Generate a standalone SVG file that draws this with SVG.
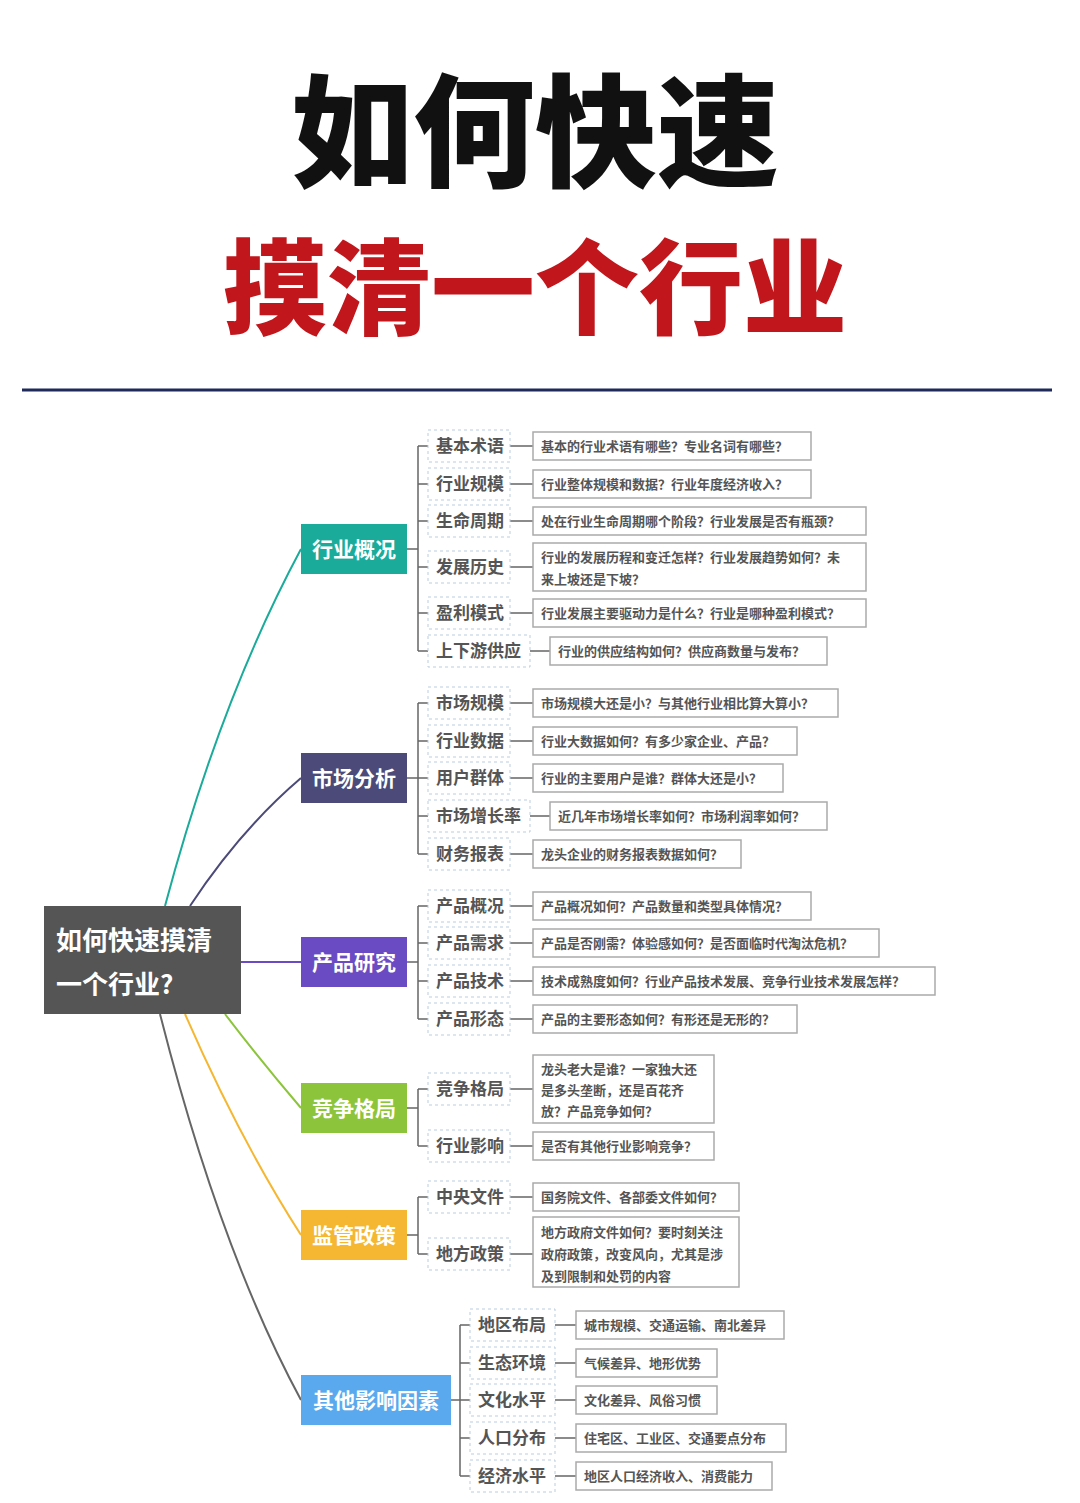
<svg xmlns="http://www.w3.org/2000/svg" width="1080" height="1503" viewBox="0 0 1080 1503">
<style>
text{font-family:"Noto Sans CJK SC","Noto Sans",sans-serif}
.t1{font-size:122px;font-weight:900;fill:#111}
.t2{font-size:104px;font-weight:900;fill:#c0161c}
.cat rect{stroke:none}
.cat text{fill:#fff;font-size:21px;font-weight:700}
.lb rect{fill:#fff;stroke:#bcd;stroke-dasharray:3 3;stroke-width:1}
.lb text{fill:#555;font-size:17px;font-weight:700}
.dt rect{fill:#fff;stroke:#aaa;stroke-width:1.5}
.dt text{fill:#555;font-size:13px;font-weight:700}
.ln{fill:none;stroke:#666;stroke-width:1.5}
</style>
<rect width="1080" height="1503" fill="#fff"/>
<text class="t1" x="535" y="177" text-anchor="middle">如何快速</text>
<text class="t2" x="535" y="327" text-anchor="middle">摸清一个行业</text>
<line x1="22" y1="390" x2="1052" y2="390" stroke="#1f2a5a" stroke-width="3"/>
<g id="connectors" fill="none" stroke-width="2">
<path d="M165 906 Q220 700 301 549" stroke="#1aab9b"/>
<path d="M190 906 Q240 830 301 778" stroke="#4b4a78"/>
<path d="M241 962 L301 962" stroke="#6a4bc4"/>
<path d="M225 1014 Q260 1060 301 1108" stroke="#8cc43c"/>
<path d="M185 1014 Q240 1140 301 1235" stroke="#f5b731"/>
<path d="M160 1014 Q220 1250 301 1400" stroke="#666"/>
<g class="ln">
<path d="M407 549 H418 M418 446 V651 M418 446 H428 M418 484 H428 M418 521 H428 M418 567 H428 M418 613 H428 M418 651 H428"/>
<path d="M510 446 H533 M510 484 H533 M510 521 H533 M510 567 H533 M510 613 H533 M530 651 H550"/>
<path d="M407 778 H418 M418 703 V854 M418 703 H428 M418 741 H428 M418 778 H428 M418 816 H428 M418 854 H428"/>
<path d="M510 703 H533 M510 741 H533 M510 778 H533 M530 816 H550 M510 854 H533"/>
<path d="M407 962 H418 M418 906 V1019 M418 906 H428 M418 943 H428 M418 981 H428 M418 1019 H428"/>
<path d="M510 906 H533 M510 943 H533 M510 981 H533 M510 1019 H533"/>
<path d="M407 1108 H418 M418 1089 V1146 M418 1089 H428 M418 1146 H428 M510 1089 H533 M510 1146 H533"/>
<path d="M407 1235 H418 M418 1197 V1254 M418 1197 H428 M418 1254 H428 M510 1197 H533 M510 1254 H533"/>
<path d="M451 1400 H460 M460 1325 V1476 M460 1325 H470 M460 1363 H470 M460 1400 H470 M460 1438 H470 M460 1476 H470"/>
<path d="M555 1325 H576 M555 1363 H576 M555 1400 H576 M555 1438 H576 M555 1476 H576"/>
</g>
</g>
<g id="root"><rect x="44" y="906" width="197" height="108" fill="#555"/><text x="56" y="950" fill="#fff" font-size="26" font-weight="700">如何快速摸清</text><text x="56" y="994" fill="#fff" font-size="26" font-weight="700">一个行业?</text></g>
<g id="c1" class="cat"><rect x="301" y="524" width="106" height="50" fill="#1aab9b"/><text x="354" y="557" text-anchor="middle">行业概况</text></g>
<g id="c2" class="cat"><rect x="301" y="753" width="106" height="50" fill="#4b4a78"/><text x="354" y="786" text-anchor="middle">市场分析</text></g>
<g id="c3" class="cat"><rect x="301" y="937" width="106" height="50" fill="#6a4bc4"/><text x="354" y="970" text-anchor="middle">产品研究</text></g>
<g id="c4" class="cat"><rect x="301" y="1083" width="106" height="50" fill="#8cc43c"/><text x="354" y="1116" text-anchor="middle">竞争格局</text></g>
<g id="c5" class="cat"><rect x="301" y="1210" width="106" height="50" fill="#f5b731"/><text x="354" y="1243" text-anchor="middle">监管政策</text></g>
<g id="c6" class="cat"><rect x="301" y="1375" width="150" height="50" fill="#5aa9ee"/><text x="376" y="1408" text-anchor="middle">其他影响因素</text></g>

<g id="l1" class="lb"><rect x="428" y="430" width="82" height="32"/><text x="436" y="452">基本术语</text></g>
<g id="d1" class="dt"><rect x="533" y="432" width="278" height="28"/><text x="541" y="451">基本的行业术语有哪些？专业名词有哪些？</text></g>
<g id="l2" class="lb"><rect x="428" y="468" width="82" height="32"/><text x="436" y="490">行业规模</text></g>
<g id="d2" class="dt"><rect x="533" y="470" width="278" height="28"/><text x="541" y="489">行业整体规模和数据？行业年度经济收入？</text></g>
<g id="l3" class="lb"><rect x="428" y="505" width="82" height="32"/><text x="436" y="527">生命周期</text></g>
<g id="d3" class="dt"><rect x="533" y="507" width="333" height="28"/><text x="541" y="526">处在行业生命周期哪个阶段？行业发展是否有瓶颈？</text></g>
<g id="l4" class="lb"><rect x="428" y="551" width="82" height="32"/><text x="436" y="573">发展历史</text></g>
<g id="d4" class="dt"><rect x="533" y="543" width="333" height="48"/><text x="541" y="562">行业的发展历程和变迁怎样？行业发展趋势如何？未</text><text x="541" y="584">来上坡还是下坡？</text></g>
<g id="l5" class="lb"><rect x="428" y="597" width="82" height="32"/><text x="436" y="619">盈利模式</text></g>
<g id="d5" class="dt"><rect x="533" y="599" width="333" height="28"/><text x="541" y="618">行业发展主要驱动力是什么？行业是哪种盈利模式？</text></g>
<g id="l6" class="lb"><rect x="428" y="635" width="102" height="32"/><text x="436" y="657">上下游供应</text></g>
<g id="d6" class="dt"><rect x="550" y="637" width="277" height="28"/><text x="558" y="656">行业的供应结构如何？供应商数量与发布？</text></g>

<g id="l7" class="lb"><rect x="428" y="687" width="82" height="32"/><text x="436" y="709">市场规模</text></g>
<g id="d7" class="dt"><rect x="533" y="689" width="305" height="28"/><text x="541" y="708">市场规模大还是小？与其他行业相比算大算小？</text></g>
<g id="l8" class="lb"><rect x="428" y="725" width="82" height="32"/><text x="436" y="747">行业数据</text></g>
<g id="d8" class="dt"><rect x="533" y="727" width="264" height="28"/><text x="541" y="746">行业大数据如何？有多少家企业、产品？</text></g>
<g id="l9" class="lb"><rect x="428" y="762" width="82" height="32"/><text x="436" y="784">用户群体</text></g>
<g id="d9" class="dt"><rect x="533" y="764" width="250" height="28"/><text x="541" y="783">行业的主要用户是谁？群体大还是小？</text></g>
<g id="l10" class="lb"><rect x="428" y="800" width="102" height="32"/><text x="436" y="822">市场增长率</text></g>
<g id="d10" class="dt"><rect x="550" y="802" width="277" height="28"/><text x="558" y="821">近几年市场增长率如何？市场利润率如何？</text></g>
<g id="l11" class="lb"><rect x="428" y="838" width="82" height="32"/><text x="436" y="860">财务报表</text></g>
<g id="d11" class="dt"><rect x="533" y="840" width="208" height="28"/><text x="541" y="859">龙头企业的财务报表数据如何？</text></g>

<g id="l12" class="lb"><rect x="428" y="890" width="82" height="32"/><text x="436" y="912">产品概况</text></g>
<g id="d12" class="dt"><rect x="533" y="892" width="278" height="28"/><text x="541" y="911">产品概况如何？产品数量和类型具体情况？</text></g>
<g id="l13" class="lb"><rect x="428" y="927" width="82" height="32"/><text x="436" y="949">产品需求</text></g>
<g id="d13" class="dt"><rect x="533" y="929" width="346" height="28"/><text x="541" y="948">产品是否刚需？体验感如何？是否面临时代淘汰危机？</text></g>
<g id="l14" class="lb"><rect x="428" y="965" width="82" height="32"/><text x="436" y="987">产品技术</text></g>
<g id="d14" class="dt"><rect x="533" y="967" width="402" height="28"/><text x="541" y="986">技术成熟度如何？行业产品技术发展、竞争行业技术发展怎样？</text></g>
<g id="l15" class="lb"><rect x="428" y="1003" width="82" height="32"/><text x="436" y="1025">产品形态</text></g>
<g id="d15" class="dt"><rect x="533" y="1005" width="264" height="28"/><text x="541" y="1024">产品的主要形态如何？有形还是无形的？</text></g>

<g id="l16" class="lb"><rect x="428" y="1073" width="82" height="32"/><text x="436" y="1095">竞争格局</text></g>
<g id="d16" class="dt"><rect x="533" y="1055" width="181" height="68"/><text x="541" y="1074">龙头老大是谁？一家独大还</text><text x="541" y="1095">是多头垄断，还是百花齐</text><text x="541" y="1116">放？产品竞争如何？</text></g>
<g id="l17" class="lb"><rect x="428" y="1130" width="82" height="32"/><text x="436" y="1152">行业影响</text></g>
<g id="d17" class="dt"><rect x="533" y="1132" width="181" height="28"/><text x="541" y="1151">是否有其他行业影响竞争？</text></g>

<g id="l18" class="lb"><rect x="428" y="1181" width="82" height="32"/><text x="436" y="1203">中央文件</text></g>
<g id="d18" class="dt"><rect x="533" y="1183" width="206" height="28"/><text x="541" y="1202">国务院文件、各部委文件如何？</text></g>
<g id="l19" class="lb"><rect x="428" y="1238" width="82" height="32"/><text x="436" y="1260">地方政策</text></g>
<g id="d19" class="dt"><rect x="533" y="1217" width="206" height="70"/><text x="541" y="1237">地方政府文件如何？要时刻关注</text><text x="541" y="1259">政府政策，改变风向，尤其是涉</text><text x="541" y="1281">及到限制和处罚的内容</text></g>

<g id="l20" class="lb"><rect x="470" y="1309" width="85" height="32"/><text x="478" y="1331">地区布局</text></g>
<g id="d20" class="dt"><rect x="576" y="1311" width="208" height="28"/><text x="584" y="1330">城市规模、交通运输、南北差异</text></g>
<g id="l21" class="lb"><rect x="470" y="1347" width="85" height="32"/><text x="478" y="1369">生态环境</text></g>
<g id="d21" class="dt"><rect x="576" y="1349" width="141" height="28"/><text x="584" y="1368">气候差异、地形优势</text></g>
<g id="l22" class="lb"><rect x="470" y="1384" width="85" height="32"/><text x="478" y="1406">文化水平</text></g>
<g id="d22" class="dt"><rect x="576" y="1386" width="141" height="28"/><text x="584" y="1405">文化差异、风俗习惯</text></g>
<g id="l23" class="lb"><rect x="470" y="1422" width="85" height="32"/><text x="478" y="1444">人口分布</text></g>
<g id="d23" class="dt"><rect x="576" y="1424" width="210" height="28"/><text x="584" y="1443">住宅区、工业区、交通要点分布</text></g>
<g id="l24" class="lb"><rect x="470" y="1460" width="85" height="32"/><text x="478" y="1482">经济水平</text></g>
<g id="d24" class="dt"><rect x="576" y="1462" width="196" height="28"/><text x="584" y="1481">地区人口经济收入、消费能力</text></g>
</svg>
